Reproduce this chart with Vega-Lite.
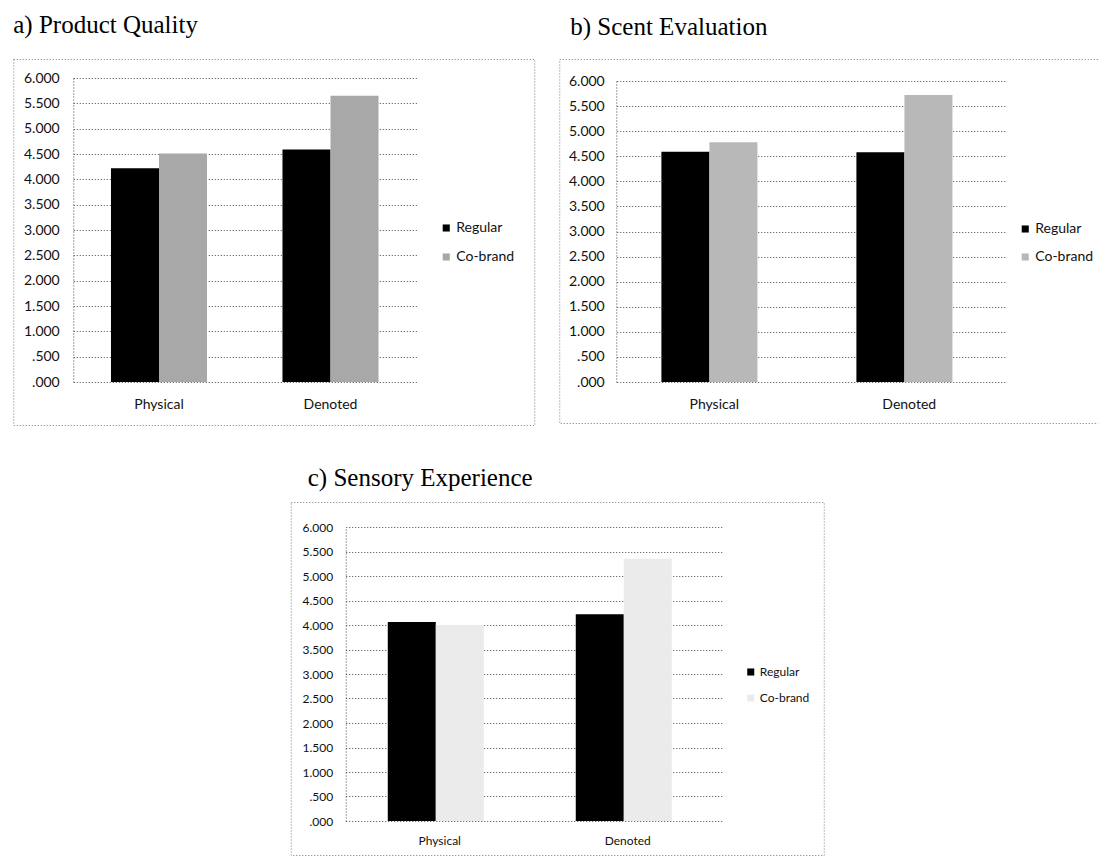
{
  "$schema": "https://vega.github.io/schema/vega-lite/v6.json",
  "background": "white",
  "padding": {"left": 12, "top": 12, "right": 0, "bottom": 0},
  "datasets": {
    "quality": [
      {"measure": "Physical", "brand": "Regular", "value": 4.22},
      {"measure": "Physical", "brand": "Co-brand", "value": 4.51},
      {"measure": "Denoted", "brand": "Regular", "value": 4.59},
      {"measure": "Denoted", "brand": "Co-brand", "value": 5.65}
    ],
    "scent": [
      {"measure": "Physical", "brand": "Regular", "value": 4.59},
      {"measure": "Physical", "brand": "Co-brand", "value": 4.78},
      {"measure": "Denoted", "brand": "Regular", "value": 4.58},
      {"measure": "Denoted", "brand": "Co-brand", "value": 5.72}
    ],
    "sensory": [
      {"measure": "Physical", "brand": "Regular", "value": 4.06},
      {"measure": "Physical", "brand": "Co-brand", "value": 4.0},
      {"measure": "Denoted", "brand": "Regular", "value": 4.22},
      {"measure": "Denoted", "brand": "Co-brand", "value": 5.35}
    ]
  },
  "center": true,
  "spacing": 39,
  "resolve": {"scale": {"color": "independent"}, "legend": {"color": "independent"}},
  "vconcat": [
    {
      "spacing": 23,
      "resolve": {"scale": {"color": "independent"}, "legend": {"color": "independent"}},
      "hconcat": [
        {
          "width": 521,
          "height": 366,
          "title": {"text": "a) Product Quality", "offset": 21},
          "data": {"name": "quality"},
          "mark": {"type": "bar"},
          "encoding": {
            "x": {"field": "measure", "type": "nominal", "sort": ["Physical", "Denoted"],
                  "scale": {"range": [60, 403], "paddingInner": 0.44, "paddingOuter": 0.22},
                  "axis": {"title": null, "offset": -43, "labelPadding": 15}},
            "xOffset": {"field": "brand", "type": "nominal", "sort": ["Regular", "Co-brand"]},
            "y": {"field": "value", "type": "quantitative",
                  "scale": {"domain": [0, 6], "range": [323, 19], "nice": false},
                  "axis": {"title": null, "offset": -60, "labelPadding": 14,
                           "values": [0, 0.5, 1, 1.5, 2, 2.5, 3, 3.5, 4, 4.5, 5, 5.5, 6],
                           "labelExpr": "datum.value < 1 ? substring(format(datum.value, '.3f'), 1) : format(datum.value, '.3f')"}},
            "color": {"field": "brand", "type": "nominal", "sort": ["Regular", "Co-brand"],
                      "scale": {"domain": ["Regular", "Co-brand"], "range": ["#000000", "#a8a8a8"]},
                      "legend": {"title": null, "orient": "none", "legendX": 426, "legendY": 162, "rowPadding": 15}}
          }
        },
        {
          "width": 542,
          "height": 364,
          "title": {"text": "b) Scent Evaluation", "offset": 19, "dx": 11},
          "data": {"name": "scent"},
          "mark": {"type": "bar"},
          "encoding": {
            "x": {"field": "measure", "type": "nominal", "sort": ["Physical", "Denoted"],
                  "scale": {"range": [57.5, 447.5], "paddingInner": 0.458, "paddingOuter": 0.229},
                  "axis": {"title": null, "offset": -41, "labelPadding": 15}},
            "xOffset": {"field": "brand", "type": "nominal", "sort": ["Regular", "Co-brand"]},
            "y": {"field": "value", "type": "quantitative",
                  "scale": {"domain": [0, 6], "range": [323, 22], "nice": false},
                  "axis": {"title": null, "offset": -57, "labelPadding": 12,
                           "values": [0, 0.5, 1, 1.5, 2, 2.5, 3, 3.5, 4, 4.5, 5, 5.5, 6],
                           "labelExpr": "datum.value < 1 ? substring(format(datum.value, '.3f'), 1) : format(datum.value, '.3f')"}},
            "color": {"field": "brand", "type": "nominal", "sort": ["Regular", "Co-brand"],
                      "scale": {"domain": ["Regular", "Co-brand"], "range": ["#000000", "#b8b8b8"]},
                      "legend": {"title": null, "orient": "none", "legendX": 459, "legendY": 163, "rowPadding": 14}}
          }
        }
      ]
    },
    {
      "width": 533,
      "height": 353,
      "title": {"text": "c) Sensory Experience", "offset": 11, "dx": 17},
      "data": {"name": "sensory"},
      "mark": {"type": "bar"},
      "encoding": {
        "x": {"field": "measure", "type": "nominal", "sort": ["Physical", "Denoted"],
              "scale": {"range": [55, 431], "paddingInner": 0.447, "paddingOuter": 0.2235},
              "axis": {"title": null, "offset": -34, "labelPadding": 14, "labelFontSize": 12}},
        "xOffset": {"field": "brand", "type": "nominal", "sort": ["Regular", "Co-brand"]},
        "y": {"field": "value", "type": "quantitative",
              "scale": {"domain": [0, 6], "range": [319, 25], "nice": false},
              "axis": {"title": null, "offset": -55, "labelPadding": 13, "labelFontSize": 12,
                       "values": [0, 0.5, 1, 1.5, 2, 2.5, 3, 3.5, 4, 4.5, 5, 5.5, 6],
                       "labelExpr": "datum.value < 1 ? substring(format(datum.value, '.3f'), 1) : format(datum.value, '.3f')"}},
        "color": {"field": "brand", "type": "nominal", "sort": ["Regular", "Co-brand"],
                  "scale": {"domain": ["Regular", "Co-brand"], "range": ["#000000", "#ebebeb"]},
                  "legend": {"title": null, "orient": "none", "legendX": 454, "legendY": 164, "rowPadding": 14, "labelFontSize": 12}}
      }
    }
  ],
  "config": {
    "font": "Lato",
    "view": {"stroke": "#777777", "strokeDash": [1, 2], "strokeWidth": 1},
    "axis": {"labelFont": "Lato", "labelColor": "#111111"},
    "axisY": {"grid": true, "gridColor": "#444444", "gridDash": [1, 2], "gridWidth": 1,
              "domainColor": "#444444", "domainDash": [1, 2], "ticks": false, "labelFontSize": 14},
    "axisX": {"domain": false, "ticks": false, "grid": false, "labelAngle": 0, "labelFontSize": 14},
    "legend": {"symbolType": "square", "labelFont": "Lato", "labelFontSize": 14, "labelColor": "#111111",
               "symbolSize": 50, "labelOffset": 3, "symbolStrokeWidth": 0},
    "title": {"anchor": "start", "font": "Liberation Serif", "fontSize": 25, "fontWeight": "normal",
              "baseline": "alphabetic", "color": "#000000", "frame": "bounds"}
  }
}
